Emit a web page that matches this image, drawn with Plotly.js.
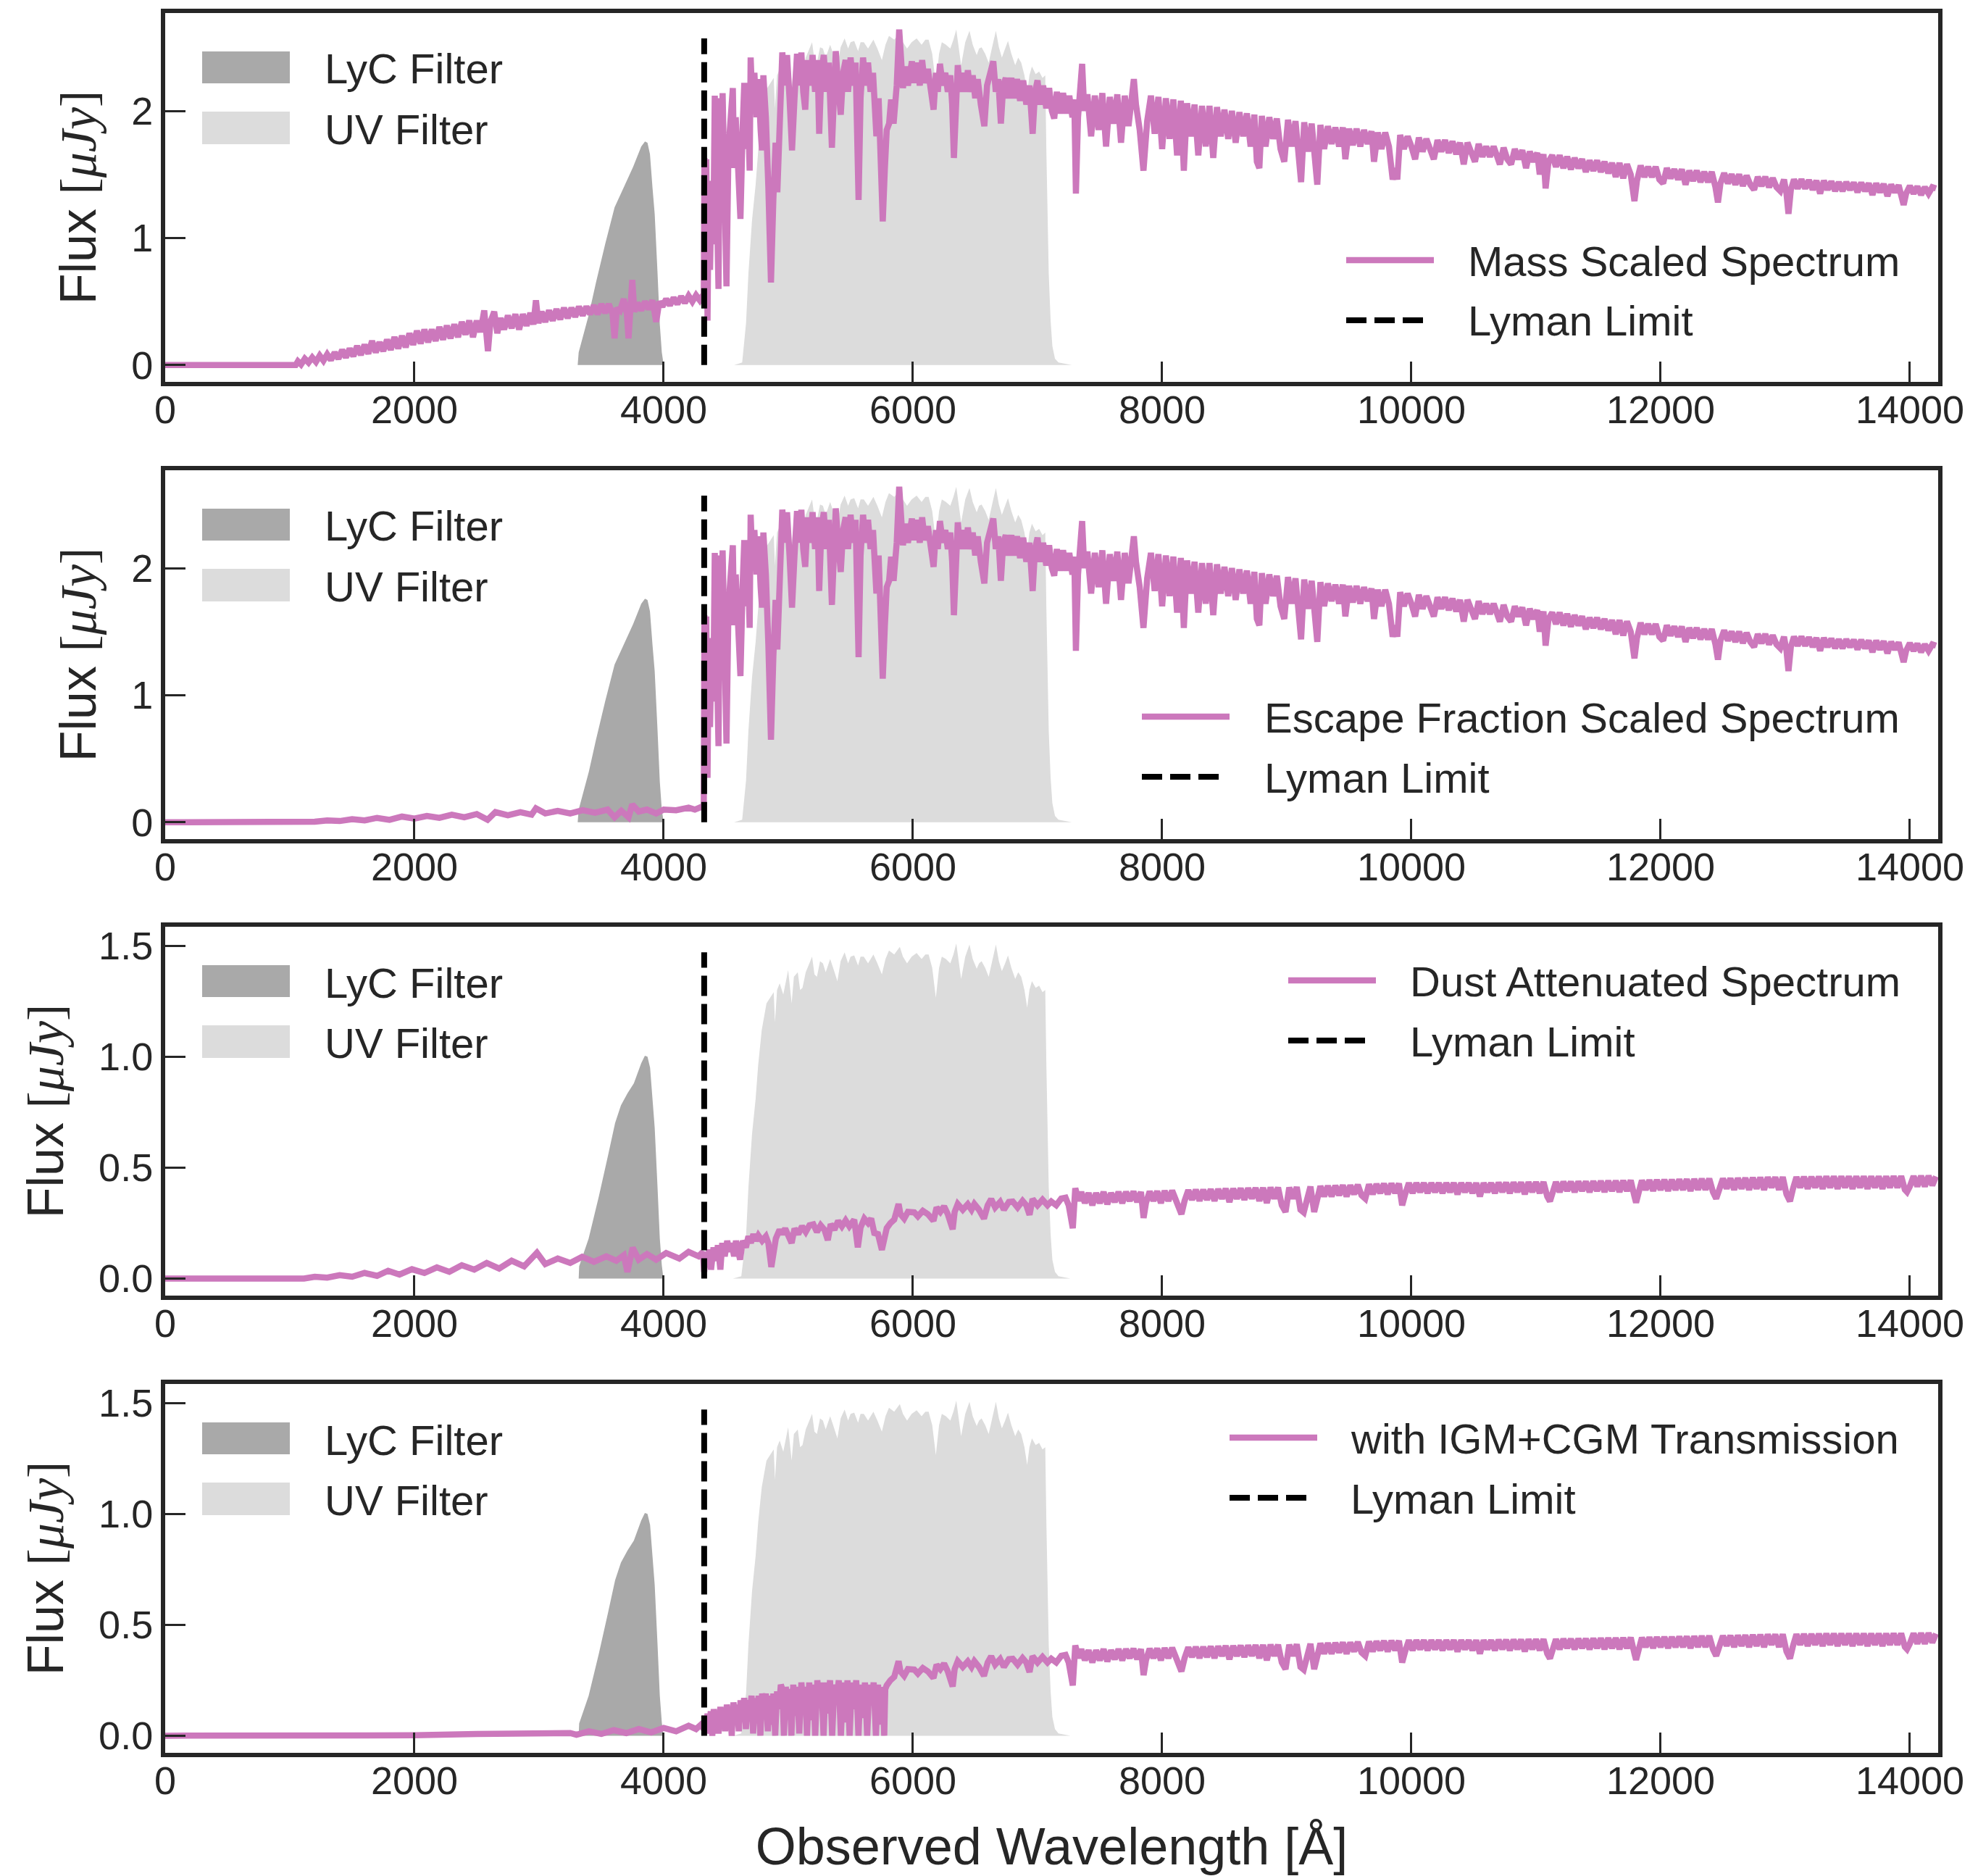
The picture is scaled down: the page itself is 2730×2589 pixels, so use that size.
<!DOCTYPE html>
<html>
<head>
<meta charset="utf-8">
<script src="https://cdn.plot.ly/plotly-3.0.1.min.js"></script>
<style>html,body{margin:0;padding:0;background:#ffffff;}</style>
</head>
<body>
<div id="chart" style="width:2730px;height:2589px;"></div>
<script>
// ---------------- DATA ----------------
const xTickVals = [0, 2000, 4000, 6000, 8000, 10000, 12000, 14000];
const xTickText = ['0', '2000', '4000', '6000', '8000', '10000', '12000', '14000'];
const yTickValsTop = [0, 1, 2];
const yTickTextTop = ['0', '1', '2'];
const yTickValsBottom = [0, 0.5, 1.0, 1.5];
const yTickTextBottom = ['0.0', '0.5', '1.0', '1.5'];

const panelLabels = ['Mass Scaled Spectrum', 'Escape Fraction Scaled Spectrum',
                     'Dust Attenuated Spectrum', 'with IGM+CGM Transmission'];
const filterLabels = ['LyC Filter', 'UV Filter'];
const lymanLabel = 'Lyman Limit';

// Lyman limit (observed) wavelength and drawn heights
const lymanWl = 4325;
const lymanTopUpper = 2.57;   // panels 1-2
const lymanTopLower = 1.47;   // panels 3-4

// LyC filter curve, panels 1-2 [wavelength, flux]
const lycUpper = [[3310,0],[3318,0.10],[3400,0.40],[3457,0.65],[3530,0.95],[3606,1.24],[3662,1.36],[3710,1.46],
  [3755,1.56],[3820,1.72],[3850,1.76],[3870,1.75],[3890,1.66],[3910,1.40],[3928,1.19],[3950,0.74],[3969,0.32],
  [3985,0.10],[4000,0]];
// LyC filter curve, panels 3-4
const lycLower = [[3318,0],[3322,0.055],[3398,0.18],[3480,0.37],[3554,0.556],[3610,0.70],[3657,0.78],[3710,0.835],
  [3761,0.88],[3820,0.97],[3849,1.004],[3870,1.0],[3891,0.95],[3910,0.80],[3928,0.68],[3950,0.42],[3969,0.18],
  [3985,0.06],[3998,0]];

// UV filter curve, panels 1-2
const uvUpper = [[4565,0],[4630,0.02],[4661,0.33],[4680,0.72],[4709,1.14],[4738,1.42],[4758,1.68],[4787,1.96],
  [4825,2.17],[4883,2.26],[4893,2.02],[4910,2.28],[4931,2.33],[4960,2.24],[4999,2.43],[5015,2.28],[5027,2.17],
  [5045,2.38],[5076,2.42],[5095,2.28],[5114,2.29],[5140,2.42],[5162,2.47],[5191,2.54],[5210,2.40],[5230,2.38],
  [5255,2.50],[5278,2.49],[5300,2.42],[5336,2.52],[5360,2.45],[5394,2.35],[5420,2.50],[5452,2.57],[5480,2.49],
  [5500,2.54],[5529,2.55],[5560,2.47],[5580,2.54],[5606,2.54],[5640,2.49],[5683,2.56],[5715,2.49],[5751,2.40],
  [5780,2.52],[5808,2.59],[5850,2.56],[5895,2.61],[5920,2.54],[5953,2.49],[5990,2.54],[6030,2.57],[6070,2.52],
  [6100,2.56],[6126,2.56],[6155,2.45],[6184,2.21],[6210,2.45],[6232,2.54],[6265,2.52],[6300,2.49],[6325,2.56],
  [6348,2.64],[6370,2.49],[6387,2.36],[6420,2.54],[6454,2.63],[6480,2.52],[6512,2.44],[6531,2.49],[6551,2.50],
  [6580,2.45],[6608,2.38],[6640,2.52],[6666,2.63],[6690,2.50],[6714,2.42],[6740,2.49],[6763,2.55],[6790,2.45],
  [6821,2.36],[6845,2.42],[6869,2.38],[6895,2.28],[6917,2.14],[6935,2.28],[6955,2.35],[6985,2.29],[7013,2.31],
  [7040,2.26],[7062,2.28],[7071,1.68],[7090,0.72],[7105,0.35],[7119,0.15],[7140,0.05],[7168,0.02],[7275,0]];
// UV filter curve, panels 3-4
const uvLower = [[4555,0],[4623,0.01],[4661,0.19],[4680,0.41],[4709,0.65],[4738,0.81],[4758,0.96],[4787,1.12],
  [4825,1.24],[4883,1.29],[4893,1.155],[4910,1.30],[4931,1.33],[4960,1.28],[4999,1.39],[5015,1.30],[5027,1.24],
  [5045,1.36],[5076,1.38],[5095,1.30],[5114,1.31],[5140,1.38],[5162,1.41],[5191,1.45],[5210,1.37],[5230,1.36],
  [5255,1.43],[5278,1.42],[5300,1.38],[5336,1.44],[5360,1.40],[5394,1.34],[5420,1.43],[5452,1.47],[5480,1.42],
  [5500,1.45],[5529,1.456],[5560,1.41],[5580,1.45],[5606,1.45],[5640,1.42],[5683,1.46],[5715,1.42],[5751,1.37],
  [5780,1.44],[5808,1.478],[5850,1.46],[5895,1.494],[5920,1.45],[5953,1.42],[5990,1.45],[6030,1.467],[6070,1.44],
  [6100,1.46],[6126,1.46],[6155,1.40],[6184,1.265],[6210,1.40],[6232,1.45],[6265,1.44],[6300,1.42],[6325,1.46],
  [6348,1.51],[6370,1.42],[6387,1.35],[6420,1.45],[6454,1.505],[6480,1.44],[6512,1.396],[6531,1.42],[6551,1.43],
  [6580,1.40],[6608,1.36],[6640,1.44],[6666,1.505],[6690,1.43],[6714,1.385],[6740,1.42],[6763,1.456],[6790,1.40],
  [6821,1.35],[6845,1.38],[6869,1.36],[6895,1.30],[6917,1.22],[6935,1.30],[6955,1.34],[6985,1.31],[7013,1.32],
  [7040,1.29],[7062,1.30],[7071,0.96],[7090,0.41],[7105,0.20],[7119,0.085],[7140,0.03],[7168,0.01],[7264,0]];

// Panel 1 spectrum blueward of the Lyman limit (band top/bottom edges)
const specBlue1 = [[0,0],[1000,0],[1047,0],[1065,0.03],[1090,0.005],[1120,0.05],[1150,0.02],[1180,0.06],[1210,0.025],
  [1240,0.075],[1270,0.035],[1300,0.085],[1330,0.04],[1360,0.10],[1390,0.05],[1420,0.12],[1450,0.06],[1480,0.13],
  [1510,0.07],[1540,0.15],[1570,0.08],[1600,0.16],[1630,0.09],[1660,0.19],[1690,0.10],[1720,0.18],[1750,0.11],
  [1780,0.20],[1810,0.12],[1840,0.22],[1870,0.13],[1900,0.23],[1930,0.14],[1960,0.25],[1990,0.16],[2020,0.27],
  [2050,0.17],[2080,0.28],[2110,0.18],[2140,0.28],[2170,0.19],[2200,0.30],[2230,0.20],[2260,0.31],[2290,0.21],
  [2320,0.32],[2350,0.22],[2380,0.34],[2410,0.24],[2440,0.35],[2470,0.22],[2500,0.35],[2530,0.26],[2560,0.43],
  [2575,0.30],[2590,0.11],[2610,0.34],[2640,0.42],[2665,0.25],[2690,0.37],[2720,0.28],[2750,0.39],[2780,0.29],
  [2810,0.40],[2840,0.28],[2870,0.40],[2900,0.31],[2930,0.41],[2955,0.32],[2975,0.51],[2995,0.33],[3020,0.42],
  [3050,0.34],[3080,0.43],[3110,0.35],[3140,0.44],[3170,0.36],[3200,0.45],[3230,0.37],[3260,0.45],[3290,0.38],
  [3320,0.46],[3350,0.39],[3380,0.46],[3410,0.40],[3440,0.47],[3470,0.40],[3500,0.48],[3530,0.41],[3560,0.48],
  [3590,0.40],[3606,0.21],[3625,0.45],[3650,0.43],[3680,0.52],[3705,0.40],[3718,0.21],[3735,0.45],[3748,0.67],
  [3765,0.42],[3790,0.49],[3820,0.43],[3850,0.50],[3880,0.44],[3910,0.51],[3940,0.34],[3965,0.50],[3990,0.46],
  [4020,0.52],[4050,0.47],[4080,0.53],[4110,0.48],[4140,0.54],[4170,0.49],[4200,0.545],[4230,0.50],[4260,0.55],
  [4290,0.51],[4315,0.55],[4322,0.53]];
// Panel 2 spectrum blueward of the Lyman limit
const specBlue2 = [[0,0],[1000,0],[1047,0],[1100,0.008],[1200,0.005],[1300,0.015],[1400,0.01],[1500,0.025],
  [1600,0.015],[1700,0.035],[1800,0.02],[1900,0.045],[2000,0.03],[2100,0.05],[2200,0.035],[2300,0.06],[2400,0.04],
  [2500,0.065],[2587,0.02],[2650,0.08],[2750,0.055],[2850,0.08],[2940,0.06],[2975,0.11],[3050,0.07],[3150,0.09],
  [3250,0.07],[3350,0.095],[3450,0.075],[3550,0.10],[3606,0.04],[3660,0.09],[3718,0.04],[3748,0.14],[3800,0.085],
  [3866,0.10],[3940,0.07],[4000,0.10],[4100,0.095],[4200,0.115],[4250,0.10],[4300,0.12],[4322,0.115]];
// Panels 1-2 spectrum redward of the Lyman limit (identical in both)
const specRed12 = [[4327,1.63],[4335,1.05],[4342,1.62],[4352,0.35],[4362,1.45],[4372,0.75],[4385,1.40],[4398,0.95],
  [4410,2.12],[4422,1.30],[4440,0.60],[4452,2.10],[4462,1.50],[4473,2.14],[4490,1.20],[4504,0.62],[4520,1.70],
  [4540,2.00],[4555,2.18],[4565,1.55],[4578,1.95],[4595,1.60],[4616,1.15],[4635,1.90],[4647,2.22],[4660,1.70],
  [4675,2.10],[4690,1.53],[4698,2.42],[4712,2.05],[4728,2.30],[4745,1.95],[4760,2.25],[4778,1.85],[4789,1.69],
  [4800,2.28],[4820,1.95],[4840,1.40],[4861,0.65],[4880,1.30],[4898,1.75],[4912,1.36],[4930,2.05],[4952,2.46],
  [4970,2.20],[4990,2.44],[5010,2.10],[5030,1.69],[5050,2.10],[5070,2.45],[5090,2.20],[5105,2.46],[5120,2.15],
  [5136,2.01],[5155,2.40],[5175,2.20],[5195,2.44],[5215,2.15],[5235,2.40],[5248,1.82],[5265,2.30],[5285,2.44],
  [5305,2.15],[5325,2.38],[5350,1.71],[5365,2.20],[5381,2.47],[5400,2.20],[5421,1.97],[5440,2.30],[5460,2.40],
  [5480,2.15],[5500,2.42],[5520,2.20],[5540,2.38],[5564,1.30],[5580,2.10],[5600,2.42],[5620,2.20],[5640,2.38],
  [5660,2.15],[5680,2.30],[5695,2.05],[5707,1.80],[5725,2.10],[5740,1.70],[5758,1.13],[5775,1.55],[5790,1.85],
  [5809,1.90],[5825,2.09],[5845,1.90],[5870,2.20],[5890,2.64],[5905,2.30],[5920,2.18],[5940,2.35],[5960,2.20],
  [5992,2.39],[6010,2.22],[6035,2.38],[6055,2.20],[6074,2.40],[6095,2.22],[6120,2.33],[6145,2.15],[6166,2.01],
  [6185,2.30],[6200,2.15],[6217,2.37],[6240,2.20],[6260,2.30],[6280,2.15],[6300,2.28],[6315,2.05],[6329,1.63],
  [6345,2.20],[6360,2.36],[6380,2.15],[6400,2.30],[6420,2.15],[6441,2.32],[6460,2.15],[6480,2.28],[6500,2.10],
  [6520,2.25],[6545,2.05],[6573,1.88],[6595,2.20],[6620,2.30],[6645,2.39],[6665,2.15],[6685,2.25],[6706,1.90],
  [6725,2.20],[6745,2.26],[6765,2.10],[6790,2.26],[6810,2.10],[6835,2.25],[6860,2.08],[6885,2.24],[6910,2.05],
  [6935,2.20],[6961,1.82],[6980,2.15],[7000,2.24],[7020,2.05],[7045,2.20],[7070,2.02],[7093,2.18],[7115,2.00],
  [7134,1.94],[7155,2.15],[7180,1.98],[7205,2.14],[7230,1.98],[7255,2.12],[7280,1.95],[7295,2.09],[7308,1.35],
  [7325,1.95],[7340,2.10],[7358,2.37],[7375,2.00],
  [7400,2.13],[7430,1.80],[7460,2.12],[7490,1.85],[7520,2.14],[7550,1.72],[7580,2.11],[7610,1.90],[7640,2.13],
  [7670,1.75],[7700,2.12],[7730,1.88],[7760,2.20],[7773,2.25],[7790,2.05],[7820,1.85],[7850,1.53],[7880,1.92],
  [7910,2.12],[7940,1.82],[7970,2.11],[8000,1.70],[8030,2.10],[8060,1.78],[8090,2.09],[8120,1.65],[8150,2.08],
  [8174,1.53],[8200,2.06],[8230,1.80],[8260,2.05],[8290,1.65],[8320,2.04],[8350,1.72],[8380,2.04],[8410,1.63],
  [8440,2.03],[8470,1.80],[8500,2.01],[8530,1.78],[8560,2.00],[8590,1.75],[8620,1.99],[8650,1.80],[8680,1.98],
  [8710,1.72],[8740,1.97],[8760,1.60],[8780,1.55],[8800,1.96],[8830,1.72],[8860,1.95],[8890,1.78],[8920,1.94],
  [8950,1.70],[8980,1.60],[9010,1.93],[9040,1.72],[9070,1.92],[9100,1.50],[9115,1.44],[9140,1.91],[9170,1.68],
  [9200,1.90],[9230,1.55],[9245,1.42],[9270,1.89],[9300,1.70],[9330,1.88],[9360,1.74],[9390,1.87],[9420,1.72],
  [9450,1.87],[9470,1.62],[9500,1.86],[9530,1.73],[9560,1.86],[9590,1.72],[9620,1.85],[9650,1.74],[9680,1.84],
  [9700,1.60],[9730,1.83],[9760,1.70],[9790,1.83],[9820,1.72],[9850,1.46],[9870,1.55],[9887,1.46],[9910,1.81],
  [9940,1.70],[9970,1.80],[10000,1.72],[10030,1.62],[10060,1.79],[10090,1.68],[10120,1.78],[10150,1.70],
  [10180,1.62],[10210,1.77],[10240,1.68],[10270,1.77],[10300,1.67],[10330,1.76],[10360,1.66],[10390,1.75],
  [10420,1.58],[10450,1.75],[10480,1.66],[10510,1.60],[10540,1.74],[10570,1.64],[10600,1.72],[10630,1.64],
  [10660,1.72],[10690,1.62],[10710,1.58],[10740,1.71],[10770,1.62],[10800,1.58],[10830,1.70],[10860,1.62],
  [10890,1.69],[10920,1.55],[10950,1.68],[10980,1.60],[11010,1.67],[11030,1.50],[11060,1.66],[11077,1.39],
  [11100,1.60],[11130,1.65],[11160,1.56],[11190,1.65],[11220,1.55],[11250,1.64],[11280,1.54],[11310,1.63],
  [11340,1.55],[11370,1.62],[11400,1.52],[11430,1.61],[11460,1.53],[11490,1.61],[11520,1.52],[11550,1.60],
  [11580,1.51],[11610,1.59],[11640,1.48],[11670,1.59],[11700,1.47],[11730,1.58],[11760,1.50],[11790,1.29],
  [11810,1.45],[11840,1.57],[11870,1.48],[11900,1.56],[11930,1.48],[11960,1.56],[11990,1.46],[12020,1.43],
  [12050,1.55],[12080,1.47],[12110,1.54],[12140,1.46],[12170,1.54],[12200,1.42],[12230,1.53],[12260,1.45],
  [12290,1.53],[12320,1.44],[12350,1.52],[12380,1.44],[12410,1.52],[12440,1.40],[12460,1.28],[12480,1.43],
  [12510,1.51],[12540,1.43],[12570,1.50],[12600,1.42],[12630,1.50],[12660,1.41],[12690,1.49],[12720,1.42],
  [12750,1.38],[12780,1.48],[12810,1.41],[12840,1.48],[12870,1.40],[12900,1.47],[12930,1.40],[12960,1.37],
  [12990,1.46],[13010,1.35],[13026,1.19],[13045,1.38],[13070,1.46],[13100,1.39],[13130,1.46],[13160,1.39],
  [13190,1.455],[13220,1.38],[13250,1.45],[13280,1.35],[13310,1.45],[13340,1.38],[13370,1.445],[13400,1.37],
  [13430,1.44],[13460,1.37],[13490,1.44],[13520,1.38],[13550,1.435],[13580,1.36],[13610,1.435],[13640,1.37],
  [13670,1.43],[13700,1.34],[13730,1.43],[13760,1.36],[13790,1.425],[13820,1.33],[13850,1.42],[13880,1.36],
  [13910,1.415],[13940,1.30],[13950,1.26],[13970,1.35],[14000,1.41],[14030,1.35],[14060,1.405],[14090,1.34],
  [14120,1.40],[14150,1.35],[14180,1.40],[14210,1.39]];

// Panel 3 (dust attenuated) spectrum
const specBlue3 = [[0,0],[1000,0],[1114,0],[1200,0.008],[1300,0.004],[1400,0.015],[1500,0.008],[1600,0.025],
  [1700,0.012],[1789,0.035],[1880,0.018],[1980,0.042],[2080,0.025],[2180,0.05],[2280,0.03],[2380,0.06],[2480,0.04],
  [2580,0.07],[2680,0.045],[2780,0.08],[2880,0.055],[2983,0.116],[3050,0.065],[3150,0.09],[3250,0.07],[3346,0.098],
  [3440,0.075],[3540,0.10],[3620,0.08],[3680,0.105],[3709,0.03],[3751,0.139],[3800,0.085],[3866,0.11],[3940,0.085],
  [4020,0.115],[4126,0.09],[4200,0.12],[4280,0.10],[4315,0.12],[4325,0.03]];
const specMid3 = [[4335,0.09],[4350,0.06],[4365,0.13],[4380,0.04],[4400,0.14],[4420,0.08],[4435,0.15],[4455,0.04],
  [4470,0.16],[4490,0.10],[4510,0.17],[4530,0.12],[4545,0.16],[4565,0.10],[4580,0.17],[4613,0.085],[4635,0.17],
  [4660,0.14],[4680,0.19],[4700,0.16],[4720,0.20],[4740,0.17],[4760,0.194],[4790,0.17],[4820,0.19],[4840,0.16],
  [4864,0.052],[4880,0.11],[4900,0.18],[4930,0.22],[4950,0.20],[4975,0.225],[5000,0.19],[5027,0.16],[5050,0.225],
  [5080,0.20],[5110,0.235],[5140,0.21],[5170,0.24],[5201,0.244],[5230,0.21],[5260,0.24],[5290,0.22],[5317,0.173],
  [5340,0.245],[5370,0.22],[5400,0.26],[5430,0.235],[5460,0.262],[5490,0.235],[5529,0.265],[5558,0.14],[5580,0.23],
  [5610,0.27],[5640,0.25],[5665,0.27],[5690,0.205],[5720,0.20],[5751,0.129],[5775,0.20]];
// Panels 3-4 spectrum redward of Lyman-alpha (identical in both)
const specRed34 = [[5790,0.227],[5820,0.25],[5850,0.265],[5885,0.336],[5900,0.29],[5930,0.27],[5960,0.30],
  [6011,0.298],[6040,0.28],[6080,0.305],[6120,0.29],[6165,0.26],[6190,0.32],[6220,0.30],[6250,0.325],[6280,0.29],
  [6319,0.222],[6335,0.30],[6360,0.336],[6400,0.31],[6440,0.335],[6470,0.31],[6493,0.336],[6530,0.31],[6570,0.27],
  [6600,0.33],[6628,0.358],[6660,0.32],[6700,0.345],[6730,0.31],[6770,0.345],[6801,0.347],[6840,0.32],[6880,0.35],
  [6910,0.33],[6936,0.287],[6960,0.358],[7000,0.33],[7040,0.355],[7080,0.33],[7110,0.347],[7150,0.33],[7190,0.36],
  [7225,0.364],[7250,0.33],[7283,0.227],[7303,0.407],[7330,0.35],[7351,0.39],
  [7380,0.34],[7410,0.385],[7440,0.33],[7470,0.385],[7500,0.34],[7530,0.39],[7560,0.335],[7590,0.385],[7620,0.345],
  [7650,0.39],[7680,0.34],[7710,0.39],[7740,0.35],[7770,0.392],[7800,0.345],[7830,0.39],[7851,0.273],[7870,0.34],
  [7900,0.392],[7930,0.35],[7960,0.393],[7990,0.34],[8020,0.395],[8050,0.35],[8080,0.396],[8110,0.345],[8140,0.30],
  [8155,0.29],[8180,0.35],[8210,0.398],[8240,0.355],[8270,0.40],[8300,0.35],[8330,0.40],[8360,0.355],[8390,0.402],
  [8420,0.35],[8450,0.403],[8480,0.36],[8510,0.405],[8540,0.345],[8570,0.405],[8600,0.36],[8630,0.406],[8660,0.355],
  [8690,0.407],[8720,0.36],[8750,0.408],[8780,0.35],[8810,0.409],[8840,0.34],[8870,0.41],[8900,0.36],[8930,0.41],
  [8960,0.33],[8990,0.30],[9020,0.41],[9050,0.36],[9080,0.412],[9110,0.31],[9136,0.298],[9160,0.36],[9190,0.414],
  [9220,0.30],[9240,0.36],[9270,0.416],[9300,0.37],[9330,0.417],[9360,0.37],[9390,0.418],[9420,0.375],[9450,0.42],
  [9480,0.37],[9510,0.42],[9540,0.38],[9570,0.422],[9600,0.375],[9630,0.36],[9660,0.424],[9690,0.38],[9720,0.425],
  [9750,0.385],[9780,0.427],[9810,0.38],[9840,0.428],[9870,0.385],[9900,0.428],[9926,0.33],[9950,0.38],[9980,0.43],
  [10010,0.385],[10040,0.43],[10070,0.39],[10100,0.43],[10130,0.385],[10160,0.43],[10190,0.39],[10220,0.43],
  [10250,0.385],[10280,0.43],[10310,0.39],[10340,0.43],[10370,0.38],[10400,0.43],[10430,0.39],[10460,0.43],
  [10490,0.385],[10520,0.43],[10550,0.37],[10580,0.43],[10610,0.39],[10640,0.43],[10670,0.385],[10700,0.432],
  [10730,0.39],[10760,0.432],[10790,0.385],[10820,0.433],[10850,0.39],[10880,0.433],[10910,0.38],[10940,0.434],
  [10970,0.39],[11000,0.434],[11030,0.385],[11060,0.435],[11090,0.37],[11112,0.348],[11135,0.39],[11160,0.435],
  [11190,0.39],[11220,0.436],[11250,0.395],[11280,0.436],[11310,0.39],[11340,0.437],[11370,0.395],[11400,0.437],
  [11430,0.39],[11460,0.438],[11490,0.395],[11520,0.439],[11550,0.39],[11580,0.44],[11610,0.395],[11640,0.44],
  [11670,0.39],[11700,0.441],[11730,0.395],[11760,0.442],[11790,0.37],[11803,0.342],[11825,0.39],[11850,0.442],
  [11880,0.40],[11910,0.443],[11940,0.395],[11970,0.444],[12000,0.40],[12030,0.445],[12060,0.395],[12090,0.445],
  [12120,0.40],[12150,0.446],[12180,0.40],[12210,0.447],[12240,0.395],[12270,0.448],[12300,0.40],[12330,0.449],
  [12360,0.40],[12390,0.45],[12420,0.39],[12446,0.36],[12470,0.40],[12500,0.45],[12530,0.405],[12560,0.451],
  [12590,0.40],[12620,0.452],[12650,0.405],[12680,0.453],[12710,0.40],[12740,0.454],[12770,0.405],[12800,0.455],
  [12830,0.40],[12860,0.456],[12890,0.41],[12920,0.456],[12950,0.40],[12980,0.457],[13010,0.38],[13038,0.348],
  [13060,0.40],[13090,0.457],[13120,0.41],[13150,0.458],[13180,0.405],[13210,0.458],[13240,0.41],[13270,0.459],
  [13300,0.405],[13330,0.46],[13360,0.41],[13390,0.46],[13420,0.405],[13450,0.46],[13480,0.41],[13510,0.46],
  [13540,0.405],[13570,0.46],[13600,0.41],[13630,0.46],[13660,0.405],[13690,0.46],[13720,0.41],[13750,0.46],
  [13780,0.405],[13810,0.46],[13840,0.41],[13870,0.461],[13900,0.41],[13930,0.461],[13960,0.40],[13977,0.39],
  [14000,0.415],[14030,0.461],[14060,0.415],[14090,0.462],[14120,0.415],[14150,0.462],[14180,0.42],[14210,0.46]];

// Panel 4 (IGM+CGM) spectrum, blueward parts
const specBlue4 = [[0,0],[1000,0],[2000,0.002],[2500,0.008],[3000,0.01],[3250,0.012],[3300,0.004],[3400,0.02],
  [3500,0.008],[3600,0.025],[3700,0.012],[3800,0.03],[3900,0.015],[4000,0.035],[4100,0.02],[4200,0.045],
  [4260,0.03],[4300,0.05],[4322,0.03]];
const specMid4 = [[4330,0.09],[4340,0.01],[4352,0.10],[4365,0.03],[4378,0.11],[4390,0.00],[4402,0.12],[4415,0.05],
  [4428,0.11],[4440,0.01],[4455,0.13],[4468,0.06],[4480,0.12],[4493,0.02],[4507,0.14],[4520,0.07],[4533,0.13],
  [4546,0.00],[4560,0.15],[4575,0.08],[4590,0.14],[4603,0.02],[4617,0.16],[4632,0.09],[4646,0.17],[4660,0.03],
  [4675,0.16],[4690,0.10],[4705,0.18],[4718,0.01],[4732,0.17],[4748,0.08],[4762,0.18],[4776,0.00],[4790,0.19],
  [4805,0.11],[4820,0.19],[4836,0.02],[4850,0.18],[4864,0.05],[4880,0.19],[4895,0.00],[4910,0.20],[4925,0.12],
  [4940,0.23],[4952,0.21],[4965,0.00],[4980,0.22],[4995,0.14],[5010,0.21],[5025,0.00],[5040,0.23],[5057,0.09],
  [5072,0.22],[5088,0.01],[5105,0.24],[5120,0.15],[5135,0.22],[5150,0.00],[5168,0.24],[5185,0.07],[5200,0.23],
  [5216,0.00],[5233,0.25],[5250,0.13],[5266,0.24],[5283,0.00],[5300,0.24],[5318,0.10],[5335,0.25],[5352,0.00],
  [5370,0.23],[5388,0.16],[5405,0.25],[5422,0.00],[5440,0.24],[5458,0.06],[5475,0.25],[5492,0.00],[5510,0.24],
  [5528,0.12],[5545,0.25],[5563,0.00],[5580,0.23],[5598,0.08],[5615,0.24],[5633,0.00],[5650,0.23],[5668,0.14],
  [5685,0.24],[5703,0.00],[5720,0.23],[5738,0.05],[5755,0.22],[5770,0.00],[5778,0.21]];

// ---------------- LAYOUT GEOMETRY ----------------
const W = 2730, H = 2589;
const ML = 228, MR = 55, MT = 18, MB = 170;
const PW = W - ML - MR, PH = H - MT - MB;
const panelTops = [18, 649, 1279, 1910];
const panelH = 509;
const px2x = px => (px - ML) / PW;
const px2y = py => 1 - (py - MT) / PH;

const PINK = '#CC78BC', LYCGRAY = '#A9A9A9', UVGRAY = '#DCDCDC', INK = '#262626';
const FONT = 'Liberation Sans, Arial, Helvetica, sans-serif';
const DASH = '28px,11px';
const SPEC_W = 8.5, DASH_W = 8;

const xs = a => a.map(p => p[0]);
const ys = a => a.map(p => p[1]);

const spectra = [
  specBlue1.concat(specRed12),
  specBlue2.concat(specRed12),
  specBlue3.concat(specMid3, specRed34),
  specBlue4.concat(specMid4, specRed34)
];
const lycs = [lycUpper, lycUpper, lycLower, lycLower];
const uvs = [uvUpper, uvUpper, uvLower, uvLower];
const lymanTops = [lymanTopUpper, lymanTopUpper, lymanTopLower, lymanTopLower];

const traces = [];
const layout = {
  width: W, height: H,
  margin: {l: ML, r: MR, t: MT, b: MB, pad: 0},
  paper_bgcolor: '#ffffff', plot_bgcolor: '#ffffff',
  font: {family: FONT, color: INK, size: 54},
  showlegend: false,
  shapes: [], annotations: []
};

// right-legend geometry per panel: [line start px, line y rel, text left px]
const rightLeg = [[1858, 341, 2024], [1576, 340, 1743], [1778, 74, 1944], [1697, 74, 1862]];

for (let i = 0; i < 4; i++) {
  const s = i === 0 ? '' : String(i + 1);
  const xa = 'x' + s, ya = 'y' + s;
  traces.push({type: 'scatter', mode: 'lines', x: xs(uvs[i]), y: ys(uvs[i]), xaxis: xa, yaxis: ya,
    fill: 'tozeroy', fillcolor: UVGRAY, line: {width: 0, color: UVGRAY}, name: filterLabels[1], hoverinfo: 'skip'});
  traces.push({type: 'scatter', mode: 'lines', x: xs(lycs[i]), y: ys(lycs[i]), xaxis: xa, yaxis: ya,
    fill: 'tozeroy', fillcolor: LYCGRAY, line: {width: 0, color: LYCGRAY}, name: filterLabels[0], hoverinfo: 'skip'});
  traces.push({type: 'scatter', mode: 'lines', x: xs(spectra[i]), y: ys(spectra[i]), xaxis: xa, yaxis: ya,
    line: {color: PINK, width: SPEC_W}, name: panelLabels[i]});
  traces.push({type: 'scatter', mode: 'lines', x: [lymanWl, lymanWl], y: [0, lymanTops[i]], xaxis: xa, yaxis: ya,
    line: {color: '#000000', width: DASH_W, dash: DASH}, name: lymanLabel});

  const top = panelTops[i];
  const dom = [px2y(top + panelH), px2y(top)];
  const upper = i < 2;
  layout['xaxis' + s] = {
    domain: [0, 1], anchor: ya, range: [0, 14227],
    tickmode: 'array', tickvals: xTickVals, ticktext: xTickText,
    ticks: 'inside', ticklen: 28, tickwidth: 3, tickcolor: INK,
    showline: true, mirror: true, linecolor: INK, linewidth: 6,
    showgrid: false, zeroline: false, ticklabelstandoff: -14,
    tickfont: {family: FONT, size: 54, color: INK}
  };
  layout['yaxis' + s] = {
    domain: dom, anchor: xa,
    range: upper ? [-0.132, 2.77] : [-0.077, 1.585],
    tickmode: 'array', tickvals: upper ? yTickValsTop : yTickValsBottom,
    ticktext: upper ? yTickTextTop : yTickTextBottom,
    ticks: 'inside', ticklen: 28, tickwidth: 3, tickcolor: INK,
    showline: true, mirror: true, linecolor: INK, linewidth: 6,
    showgrid: false, zeroline: false,
    tickfont: {family: FONT, size: 54, color: INK},
    title: {text: 'Flux <span style="font-family:Liberation Serif">[<i>μJy</i>]</span>',
            font: {family: FONT, size: 70, color: INK}, standoff: 28}
  };

  // left legend (filters)
  layout.shapes.push({type: 'rect', xref: 'paper', yref: 'paper', x0: px2x(279), x1: px2x(400),
    y0: px2y(top + 53), y1: px2y(top + 97), fillcolor: LYCGRAY, line: {width: 0}});
  layout.shapes.push({type: 'rect', xref: 'paper', yref: 'paper', x0: px2x(279), x1: px2x(400),
    y0: px2y(top + 136), y1: px2y(top + 181), fillcolor: UVGRAY, line: {width: 0}});
  layout.annotations.push({xref: 'paper', yref: 'paper', x: px2x(446), y: px2y(top + 77), xanchor: 'left',
    yanchor: 'middle', showarrow: false, text: filterLabels[0], font: {family: FONT, size: 58, color: INK}});
  layout.annotations.push({xref: 'paper', yref: 'paper', x: px2x(446), y: px2y(top + 160), xanchor: 'left',
    yanchor: 'middle', showarrow: false, text: filterLabels[1], font: {family: FONT, size: 58, color: INK}});

  // right legend (spectrum + Lyman limit)
  const [lx, ly, tx] = rightLeg[i];
  layout.shapes.push({type: 'line', xref: 'paper', yref: 'paper', x0: px2x(lx), x1: px2x(lx + 121),
    y0: px2y(top + ly), y1: px2y(top + ly), line: {color: PINK, width: SPEC_W}});
  layout.shapes.push({type: 'line', xref: 'paper', yref: 'paper', x0: px2x(lx), x1: px2x(lx + 117),
    y0: px2y(top + ly + 83), y1: px2y(top + ly + 83), line: {color: '#000000', width: DASH_W, dash: DASH}});
  layout.annotations.push({xref: 'paper', yref: 'paper', x: px2x(tx), y: px2y(top + ly + 1), xanchor: 'left',
    yanchor: 'middle', showarrow: false, text: panelLabels[i], font: {family: FONT, size: 58, color: INK}});
  layout.annotations.push({xref: 'paper', yref: 'paper', x: px2x(tx), y: px2y(top + ly + 84), xanchor: 'left',
    yanchor: 'middle', showarrow: false, text: lymanLabel, font: {family: FONT, size: 58, color: INK}});
}
layout.xaxis4.title = {text: 'Observed Wavelength [Å]', font: {family: FONT, size: 72, color: INK}, standoff: 39};

Plotly.newPlot('chart', traces, layout, {staticPlot: true, displayModeBar: false});
</script>
</body>
</html>
